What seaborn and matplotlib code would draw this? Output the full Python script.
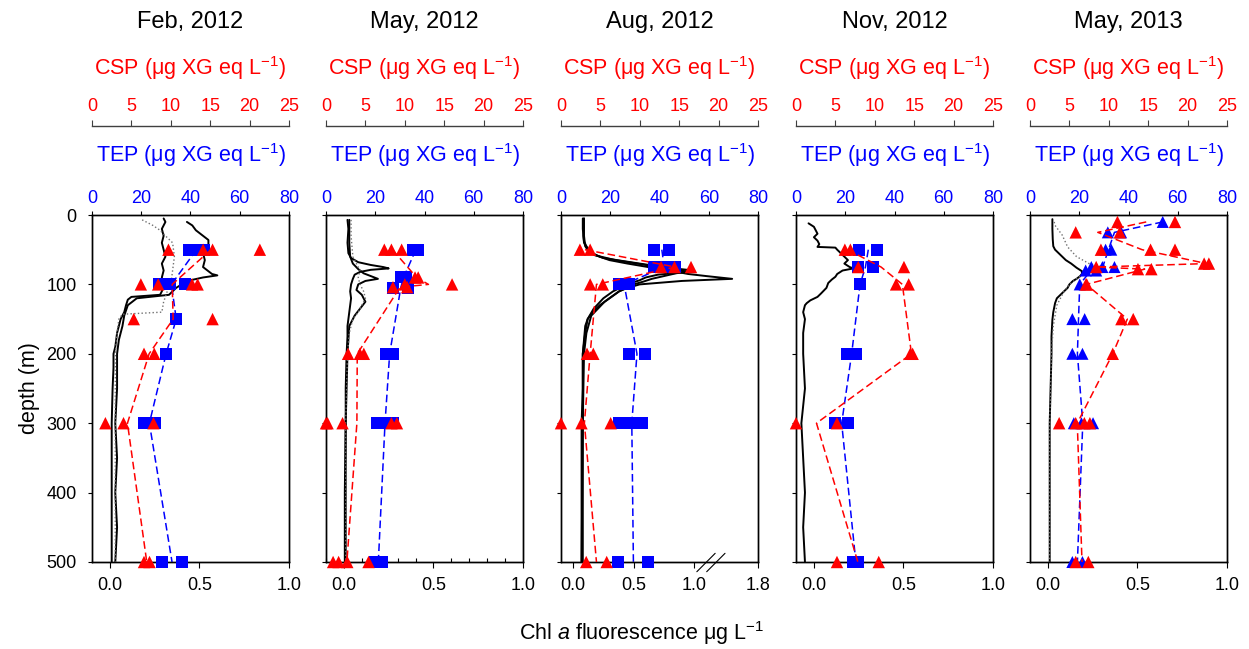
import numpy as np
import matplotlib
matplotlib.use("Agg")
import matplotlib.pyplot as plt
import seaborn as sns

# ---------------------------------------------------------------- panel titles
TITLES = ["Feb, 2012", "May, 2012", "Aug, 2012", "Nov, 2012", "May, 2013"]

# ---------------------------------------------------------------- TEP (blue), ug XG eq L-1
FEB12_TEP_DEPTH = [50, 50, 50, 100, 100, 100, 150, 200, 300, 300, 500, 500]
FEB12_TEP = [39.3, 42.5, 45.5, 27.1, 31.8, 37.9, 34.2, 30.1, 21.2, 25.4, 28.4, 36.6]
MAY12_TEP_DEPTH = [50, 50, 90, 90, 105, 105, 200, 200, 300, 300, 300, 500, 500]
MAY12_TEP = [35.5, 37.5, 30.5, 32.5, 27.3, 33.4, 24.4, 27.3, 20.6, 24.0, 27.3, 19.9, 22.6]
AUG12_TEP_DEPTH = [50, 50, 75, 75, 75, 100, 100, 200, 200, 300, 300, 300, 300, 500, 500]
AUG12_TEP = [37.9, 44.0, 37.9, 41.5, 46.3, 23.7, 27.6, 27.6, 34.1, 23.7, 28.0, 30.5, 32.8, 23.3, 35.5]
NOV12_TEP_DEPTH = [50, 50, 75, 75, 100, 200, 200, 300, 300, 500, 500]
NOV12_TEP = [25.7, 33.0, 25.3, 31.1, 26.0, 20.8, 24.4, 15.8, 21.3, 23.3, 25.3]
MAY13_TEP_DEPTH = [10, 25, 25, 50, 50, 75, 75, 75, 80, 80, 100, 150, 150, 200, 200,
                   300, 300, 300, 500, 500]
MAY13_TEP = [53.9, 31.6, 37.0, 30.7, 33.0, 24.9, 29.4, 34.3, 22.6, 26.9, 20.2, 17.2, 22.2,
             17.2, 21.3, 17.8, 20.9, 25.6, 17.2, 21.3]

# ---------------------------------------------------------------- CSP (red), ug XG eq L-1
FEB12_CSP_DEPTH = [50, 50, 50, 50, 100, 100, 100, 100, 150, 150, 200, 200, 300, 300, 300, 500, 500]
FEB12_CSP = [9.7, 14.1, 15.3, 21.3, 6.2, 8.4, 12.7, 13.4, 5.3, 15.3, 6.6, 7.9, 1.7, 4.0, 7.8, 6.6, 7.3]
MAY12_CSP_DEPTH = [50, 50, 50, 90, 90, 100, 100, 104, 104, 200, 200, 200,
                   300, 300, 300, 300, 300, 500, 500, 500, 500]
MAY12_CSP = [7.4, 8.3, 9.6, 11.3, 11.7, 16.0, 10.0, 8.5, 10.3, 2.8, 4.3, 4.8,
             0.0, 0.2, 2.1, 8.3, 9.0, 0.9, 1.6, 2.7, 5.4]
AUG12_CSP_DEPTH = [50, 50, 75, 75, 75, 100, 100, 200, 200, 300, 300, 300, 500, 500]
AUG12_CSP = [2.4, 3.7, 12.7, 14.4, 16.5, 3.7, 5.3, 3.3, 4.1, 0.0, 2.6, 6.3, 3.2, 5.8]
NOV12_CSP_DEPTH = [50, 50, 75, 75, 100, 100, 200, 200, 300, 300, 500, 500]
NOV12_CSP = [6.2, 6.9, 7.9, 13.7, 12.7, 14.3, 14.5, 14.8, 0.0, 5.2, 5.2, 10.5]
MAY13_CSP_DEPTH = [10, 10, 25, 25, 50, 50, 50, 70, 70, 75, 78, 78, 100, 100, 150, 150, 200,
                   300, 300, 300, 300, 500, 500]
MAY13_CSP = [11.1, 18.4, 5.8, 11.4, 9.0, 15.3, 18.4, 22.1, 22.7, 8.4, 13.7, 15.4, 7.1, 7.2,
             11.6, 13.1, 10.5, 3.7, 5.8, 6.9, 7.6, 5.8, 7.4]

# ---------------------------------------------------------------- Chl a fluorescence casts
FEB12_CAST1_DEPTH = [5, 10, 20, 30, 40, 50, 60, 70, 80, 90, 100, 110, 115, 118, 122, 130, 140,
                     150, 160, 170, 180, 190, 200, 220, 250, 300, 350, 400, 450, 500]
FEB12_CAST1 = [0.30, 0.31, 0.29, 0.30, 0.29, 0.30, 0.31, 0.29, 0.30, 0.29, 0.30, 0.29, 0.28,
               0.12, 0.10, 0.09, 0.08, 0.06, 0.05, 0.04, 0.035, 0.03, 0.02, 0.02, 0.015, 0.01,
               0.01, 0.01, 0.01, 0.01]
FEB12_CAST2_DEPTH = [10, 15, 22, 30, 36, 46, 55, 65, 75, 85, 87, 90, 94, 100, 105, 110, 115,
                     120, 130, 145, 160, 180, 200, 250, 300, 350, 400, 450, 500]
FEB12_CAST2 = [0.43, 0.46, 0.48, 0.52, 0.55, 0.55, 0.52, 0.53, 0.52, 0.57, 0.60, 0.52, 0.45,
               0.40, 0.37, 0.35, 0.33, 0.15, 0.10, 0.08, 0.07, 0.05, 0.04, 0.04, 0.03, 0.04,
               0.03, 0.04, 0.03]
FEB12_CAST3_DEPTH = [7, 15, 22, 30, 40, 60, 80, 100, 110, 118, 125, 140, 143, 150, 170, 200,
                     300, 400, 500]
FEB12_CAST3 = [0.18, 0.24, 0.28, 0.31, 0.35, 0.36, 0.35, 0.34, 0.32, 0.31, 0.30, 0.29, 0.07,
               0.05, 0.04, 0.03, 0.03, 0.03, 0.03]

MAY12_CAST1_DEPTH = [7, 20, 40, 55, 62, 68, 72, 75, 77, 79, 82, 86, 92, 100, 110, 120, 130,
                     140, 150, 160, 175, 200, 250, 300, 400, 500]
MAY12_CAST1 = [0.02, 0.025, 0.02, 0.025, 0.04, 0.08, 0.15, 0.22, 0.25, 0.15, 0.09, 0.06, 0.05,
               0.04, 0.035, 0.04, 0.035, 0.03, 0.025, 0.02, 0.02, 0.015, 0.01, 0.01, 0.005, 0.005]
MAY12_CAST2_DEPTH = [7, 20, 40, 60, 70, 78, 84, 88, 92, 95, 100, 108, 115, 125, 135, 145, 160,
                     200, 300, 500]
MAY12_CAST2 = [0.03, 0.03, 0.03, 0.035, 0.05, 0.08, 0.11, 0.15, 0.19, 0.12, 0.08, 0.07, 0.10,
               0.12, 0.09, 0.06, 0.03, 0.02, 0.01, 0.01]
MAY12_CAST3_DEPTH = [7, 30, 60, 70, 80, 90, 100, 110, 120, 130, 140, 150, 170, 200, 300, 500]
MAY12_CAST3 = [0.04, 0.04, 0.05, 0.07, 0.09, 0.08, 0.09, 0.11, 0.12, 0.10, 0.08, 0.05, 0.03,
               0.02, 0.01, 0.01]

AUG12_CAST1_DEPTH = [5, 15, 30, 38, 45, 50, 55, 60, 65, 70, 75, 80, 85, 88, 92, 95, 100, 105,
                     110, 120, 130, 140, 150, 160, 180, 200, 250, 300, 400, 500]
AUG12_CAST1 = [0.09, 0.09, 0.085, 0.09, 0.11, 0.13, 0.16, 0.22, 0.30, 0.45, 0.62, 0.80, 0.95,
               1.10, 1.45, 0.90, 0.55, 0.45, 0.38, 0.30, 0.22, 0.16, 0.12, 0.10, 0.09, 0.08,
               0.08, 0.07, 0.07, 0.07]
AUG12_CAST2_DEPTH = [5, 20, 40, 50, 58, 65, 72, 78, 82, 86, 90, 94, 98, 104, 110, 120, 135,
                     150, 170, 200, 300, 500]
AUG12_CAST2 = [0.08, 0.08, 0.09, 0.12, 0.18, 0.35, 0.60, 0.85, 0.95, 0.70, 0.60, 0.55, 0.48,
               0.40, 0.33, 0.25, 0.17, 0.12, 0.10, 0.08, 0.08, 0.07]
AUG12_CAST3_DEPTH = [5, 30, 45, 55, 62, 70, 76, 80, 84, 88, 92, 96, 100, 110, 125, 145, 170,
                     200, 300, 500]
AUG12_CAST3 = [0.09, 0.09, 0.10, 0.14, 0.25, 0.55, 0.78, 1.00, 0.85, 0.75, 0.65, 0.58, 0.50,
               0.38, 0.26, 0.15, 0.11, 0.09, 0.08, 0.08]

NOV12_CAST1_DEPTH = [12, 17, 22, 27, 32, 37, 42, 46, 47, 50, 55, 60, 65, 70, 75, 77, 80, 85,
                     89, 93, 98, 105, 113, 118, 123, 127, 130, 140, 150, 170, 200, 250, 300,
                     350, 400, 450, 500]
NOV12_CAST1 = [-0.03, 0.0, 0.01, 0.02, 0.0, 0.02, 0.03, 0.02, 0.12, 0.13, 0.15, 0.17, 0.19,
               0.17, 0.20, 0.22, 0.16, 0.13, 0.12, 0.10, 0.08, 0.07, 0.04, 0.02, -0.02, -0.04,
               -0.05, -0.06, -0.05, -0.06, -0.06, -0.05, -0.07, -0.06, -0.05, -0.06, -0.05]

MAY13_CAST1_DEPTH = [6, 20, 35, 45, 50, 55, 60, 65, 70, 76, 81, 85, 88, 92, 95, 100, 105, 110,
                     115, 120, 127, 140, 151, 175, 200, 300, 400, 500]
MAY13_CAST1 = [0.025, 0.025, 0.027, 0.03, 0.04, 0.06, 0.08, 0.10, 0.13, 0.16, 0.19, 0.19,
               0.18, 0.16, 0.14, 0.12, 0.11, 0.09, 0.07, 0.05, 0.04, 0.03, 0.025, 0.02, 0.02,
               0.01, 0.01, 0.01]
MAY13_CAST2_DEPTH = [10, 15, 29, 46, 60, 70, 74, 78, 84, 90, 100, 110, 130, 160, 200, 300, 500]
MAY13_CAST2 = [0.035, 0.04, 0.08, 0.11, 0.16, 0.23, 0.29, 0.32, 0.22, 0.17, 0.12, 0.09, 0.05,
               0.03, 0.02, 0.01, 0.01]

# axis tick values
DEPTH_TICKS = [0, 100, 200, 300, 400, 500]
TEP_TICKS = [0, 20, 40, 60, 80]
CSP_TICKS = [0, 5, 10, 15, 20, 25]
CHL_TICKS = [0.0, 0.5, 1.0]
CHL_TICKS_BROKEN = [0.0, 0.5, 1.0, 1.8]

# ---------------------------------------------------------------- style
sns.set_style("ticks")
plt.rcParams["font.family"] = ["Liberation Sans", "DejaVu Sans"]
plt.rcParams["mathtext.fontset"] = "custom"
plt.rcParams["mathtext.rm"] = "Liberation Sans"
plt.rcParams["mathtext.it"] = "Liberation Sans:italic"
plt.rcParams["axes.linewidth"] = 1.0
plt.rcParams["axes.edgecolor"] = "black"
plt.rcParams["text.color"] = "black"
plt.rcParams["axes.labelcolor"] = "black"
plt.rcParams["xtick.color"] = "black"
plt.rcParams["ytick.color"] = "black"

RED = "#FF0000"
BLUE = "#0000FF"
TICK_FS = 13
LABEL_FS = 15.5

W, H = 1249, 649
fig = plt.figure(figsize=(W / 100, H / 100), dpi=100)

LEFTS = [92, 326, 561, 796, 1030]
AX_W, AX_TOP, AX_BOT = 197, 215, 562

BREAK, SQUEEZE = 1.1, 0.61


def fwd(x):
    x = np.asarray(x, dtype=float)
    return np.where(x <= BREAK, x, BREAK + (x - BREAK) * SQUEEZE)


def inv(x):
    x = np.asarray(x, dtype=float)
    return np.where(x <= BREAK, x, BREAK + (x - BREAK) / SQUEEZE)


panels = [
    dict(casts=[(FEB12_CAST1_DEPTH, FEB12_CAST1, "-"), (FEB12_CAST2_DEPTH, FEB12_CAST2, "-"),
                (FEB12_CAST3_DEPTH, FEB12_CAST3, ":")],
         tep=(FEB12_TEP_DEPTH, FEB12_TEP), csp=(FEB12_CSP_DEPTH, FEB12_CSP), tep_marker="s"),
    dict(casts=[(MAY12_CAST1_DEPTH, MAY12_CAST1, "-"), (MAY12_CAST2_DEPTH, MAY12_CAST2, "-"),
                (MAY12_CAST3_DEPTH, MAY12_CAST3, ":")],
         tep=(MAY12_TEP_DEPTH, MAY12_TEP), csp=(MAY12_CSP_DEPTH, MAY12_CSP), tep_marker="s"),
    dict(casts=[(AUG12_CAST1_DEPTH, AUG12_CAST1, "-"), (AUG12_CAST2_DEPTH, AUG12_CAST2, "-"),
                (AUG12_CAST3_DEPTH, AUG12_CAST3, "-")],
         tep=(AUG12_TEP_DEPTH, AUG12_TEP), csp=(AUG12_CSP_DEPTH, AUG12_CSP), tep_marker="s"),
    dict(casts=[(NOV12_CAST1_DEPTH, NOV12_CAST1, "-")],
         tep=(NOV12_TEP_DEPTH, NOV12_TEP), csp=(NOV12_CSP_DEPTH, NOV12_CSP), tep_marker="s"),
    dict(casts=[(MAY13_CAST1_DEPTH, MAY13_CAST1, "-"), (MAY13_CAST2_DEPTH, MAY13_CAST2, ":")],
         tep=(MAY13_TEP_DEPTH, MAY13_TEP), csp=(MAY13_CSP_DEPTH, MAY13_CSP), tep_marker="^"),
]

for i, (title, p, left) in enumerate(zip(TITLES, panels, LEFTS)):
    rect = [left / W, 1 - AX_BOT / H, AX_W / W, (AX_BOT - AX_TOP) / H]
    ax = fig.add_axes(rect)
    broken = (i == 2)
    if broken:
        ax.set_xscale("function", functions=(fwd, inv))

    # fluorescence casts
    for depth, chl, ls in p["casts"]:
        color = "black" if ls == "-" else "#707070"
        sns.lineplot(x=chl, y=depth, sort=False, estimator=None, orient="y", ax=ax,
                     color=color, linestyle=ls, linewidth=1.4 if ls == "-" else 1.0)

    ax.set_ylim(500, 0)
    ax.set_xlim(-0.1, 1.8 if broken else 1.0)
    ticks = CHL_TICKS_BROKEN if broken else CHL_TICKS
    ax.set_xticks(ticks)
    ax.set_xticklabels([f"{t:.1f}" for t in ticks])
    ax.set_yticks(DEPTH_TICKS)
    if i == 1:
        ax.set_xticks(np.arange(-0.1, 1.0001, 0.1), minor=True)
        ax.tick_params(axis="x", which="minor", direction="in", length=3, width=0.8)
    else:
        ax.minorticks_off()
    ax.tick_params(axis="x", which="major", direction="out", length=4, width=0.8,
                   pad=7, labelsize=TICK_FS, top=False)
    ax.tick_params(axis="y", direction="out", length=3, width=0.8, pad=8,
                   labelsize=TICK_FS, right=False)
    if i != 0:
        ax.set_yticklabels([])
    ax.set_xlabel("")
    ax.set_ylabel("")
    for s in ax.spines.values():
        s.set_visible(True)
        s.set_linewidth(1.0)

    if broken:
        # axis-break marks on the bottom spine
        span = fwd(1.8) - fwd(-0.1)
        xb = float((fwd(BREAK) - fwd(-0.1)) / span)
        for dx in (0.0, 0.05):
            ax.plot([xb - 0.048 + dx, xb + 0.045 + dx], [-0.028, 0.025],
                    transform=ax.transAxes, color="black", lw=0.8, clip_on=False)

    # TEP axis (top spine)
    axT = ax.twiny()
    dT, vT = p["tep"]
    sns.lineplot(x=vT, y=dT, orient="y", estimator="mean", errorbar=None, ax=axT,
                 color=BLUE, linestyle=(0, (5, 2.5)), linewidth=1.1)
    sns.scatterplot(x=vT, y=dT, marker=p["tep_marker"], s=75, color=BLUE, edgecolor="none",
                    linewidth=0, ax=axT, clip_on=False, zorder=4)
    axT.set_xlim(0, 80)
    axT.set_xticks(TEP_TICKS)
    axT.tick_params(axis="x", direction="out", length=3, width=0.8, pad=3,
                    labelsize=TICK_FS, labelcolor=BLUE)
    axT.set_xlabel("")
    axT.set_ylabel("")

    # CSP axis (offset spine above)
    axC = ax.twiny()
    dC, vC = p["csp"]
    sns.lineplot(x=vC, y=dC, orient="y", estimator="mean", errorbar=None, ax=axC,
                 color=RED, linestyle=(0, (5, 2.5)), linewidth=1.1)
    sns.scatterplot(x=vC, y=dC, marker="^", s=80, color=RED, edgecolor="none",
                    linewidth=0, ax=axC, clip_on=False, zorder=5)
    axC.set_xlim(0, 25)
    axC.set_xticks(CSP_TICKS)
    axC.spines["top"].set_position(("outward", 64))
    axC.spines["top"].set_color("#404040")
    for side in ("left", "right", "bottom"):
        axC.spines[side].set_visible(False)
    axC.tick_params(axis="x", direction="out", length=4, width=0.8, pad=4,
                    labelsize=TICK_FS, labelcolor=RED, color="#404040")
    axC.set_xlabel("")
    axC.set_ylabel("")
    axC.set_ylim(500, 0)

    cx = (left + AX_W / 2) / W
    fig.text(cx, 1 - 22 / H, title, ha="center", va="center", fontsize=17)
    fig.text(cx, 1 - 68 / H, r"CSP ($\mathregular{\mu}$g XG eq L$^{-1}$)", ha="center",
             va="center", fontsize=LABEL_FS, color=RED)
    fig.text(cx, 1 - 155 / H, r"TEP ($\mathregular{\mu}$g XG eq L$^{-1}$)", ha="center",
             va="center", fontsize=LABEL_FS, color=BLUE)

fig.text(30 / W, 1 - 388 / H, "depth (m)", rotation=90, ha="center", va="center",
         fontsize=LABEL_FS)
fig.text(641 / W, 1 - 633 / H, r"Chl $a$ fluorescence $\mathregular{\mu}$g L$^{-1}$",
         ha="center", va="center", fontsize=LABEL_FS)

fig.savefig("out.png", dpi=100)
